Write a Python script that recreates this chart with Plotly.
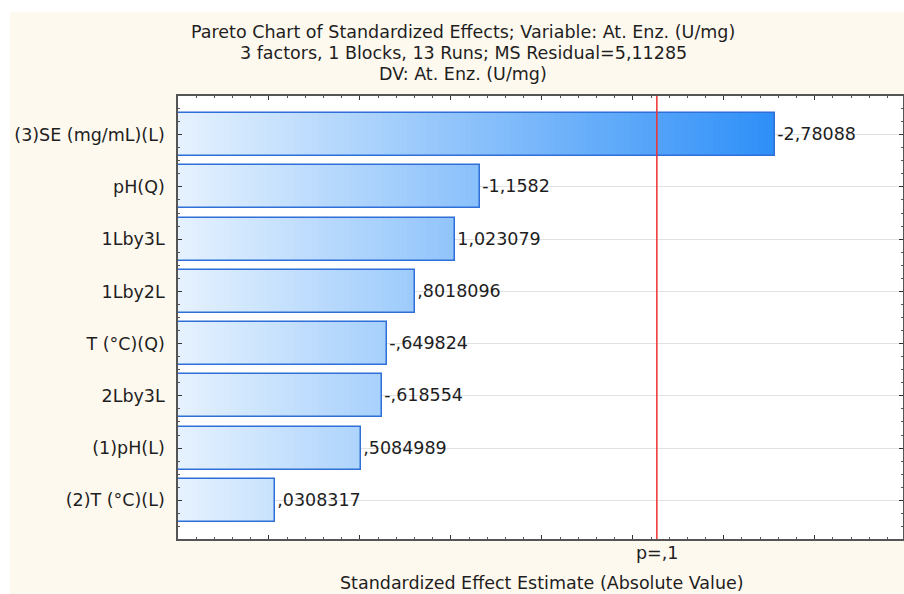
import numpy as np
import plotly.graph_objects as go

# ---- data ----
factors = ["(3)SE (mg/mL)(L)", "pH(Q)", "1Lby3L", "1Lby2L", "T (°C)(Q)",
           "2Lby3L", "(1)pH(L)", "(2)T (°C)(L)"]
effects = [-2.78088, -1.1582, 1.023079, 0.8018096, -0.649824, -0.618554,
           0.5084989, 0.0308317]
crit_value = 2.132  # p = .1
crit_label = "p=,1"
title_lines = ["Pareto Chart of Standardized Effects; Variable: At. Enz. (U/mg)",
               "3 factors, 1 Blocks, 13 Runs; MS Residual=5,11285",
               "DV: At. Enz. (U/mg)"]
x_title = "Standardized Effect Estimate (Absolute Value)"


def stat_fmt(v):
    s = repr(v)
    neg = s.startswith("-")
    s = s.lstrip("-")
    if s.startswith("0."):
        s = s[1:]
    s = s.replace(".", ",")
    return ("-" if neg else "") + s


abs_eff = [abs(v) for v in effects]
labels = [stat_fmt(v) for v in effects]
ypos = list(range(len(factors)))

XMIN, XMAX = -0.5, 3.485
FONT = "DejaVu Sans"
FS = 17.5
TXT = "#1e1e1e"

c0 = np.array([230, 242, 254])
c1 = np.array([46, 143, 248])
grad_end = max(abs_eff)


def grad(x):
    t = min(max((x - XMIN) / (grad_end - XMIN), 0), 1)
    c = c0 + (c1 - c0) * t
    return "rgb(%d,%d,%d)" % tuple(c.round().astype(int))


fig = go.Figure()
BW = 0.82
step = 0.035
for a in np.arange(XMIN, grad_end, step):
    fig.add_trace(go.Bar(
        y=ypos, x=[max(v - a, 0) for v in abs_eff], base=a,
        orientation="h", width=BW,
        marker=dict(color=grad(a + step / 2), line=dict(width=0)),
        hoverinfo="skip", showlegend=False))

fig.add_trace(go.Bar(
    y=ypos, x=[v - XMIN for v in abs_eff], base=XMIN,
    orientation="h", width=BW,
    marker=dict(color="rgba(0,0,0,0)", line=dict(color="#2f6fd8", width=1.5)),
    text=labels, textposition="outside", cliponaxis=False,
    textfont=dict(family=FONT, size=FS, color=TXT),
    showlegend=False))

fig.add_shape(type="line", xref="x", yref="paper", x0=crit_value, x1=crit_value,
              y0=0, y1=1, line=dict(color="#f03030", width=1.5), layer="above")

# white border strips of the original image
W, H = 904, 594
L, R, T, B = 178, 1, 96, 55
pw, ph = W - L - R, H - T - B


def px_x(p):
    return (p - L) / pw


def px_y(p):
    return (H - B - p) / ph


fig.add_shape(type="rect", xref="paper", yref="paper", x0=px_x(0), x1=px_x(W),
              y0=px_y(12), y1=px_y(0), fillcolor="white", line_width=0, layer="below")
fig.add_shape(type="rect", xref="paper", yref="paper", x0=px_x(0), x1=px_x(10),
              y0=px_y(H), y1=px_y(0), fillcolor="white", line_width=0, layer="below")

for i, (line, yp) in enumerate(zip(title_lines, [32, 53, 74])):
    fig.add_annotation(text=line, xref="paper", yref="paper", x=px_x(463), y=px_y(yp),
                       showarrow=False, xanchor="center", yanchor="middle",
                       font=dict(family=FONT, size=FS, color=TXT))

fig.add_annotation(text=crit_label, xref="x", yref="paper", x=crit_value, y=px_y(553),
                   showarrow=False, xanchor="center", yanchor="middle",
                   font=dict(family=FONT, size=FS, color=TXT))
fig.add_annotation(text=x_title, xref="paper", yref="paper", x=px_x(542), y=px_y(583),
                   showarrow=False, xanchor="center", yanchor="middle",
                   font=dict(family=FONT, size=FS, color=TXT))

fig.update_layout(
    width=W, height=H, margin=dict(l=L, r=R, t=T, b=B, autoexpand=False),
    paper_bgcolor="#fef9ef", plot_bgcolor="white",
    barmode="overlay", bargap=0,
    font=dict(family=FONT, size=FS, color=TXT),
    xaxis=dict(range=[XMIN, XMAX], showgrid=False, zeroline=False,
               showline=True, linecolor="#555555", linewidth=1.5, mirror="allticks",
               ticks="inside", ticklen=4, tickcolor="#333", dtick=0.5, tick0=0,
               showticklabels=False,
               minor=dict(ticks="inside", ticklen=2, dtick=0.1, tickcolor="#555", showgrid=False)),
    yaxis=dict(range=[len(factors) - 1 + 0.74, -0.74], showgrid=True, gridcolor="#e2e2e2",
               gridwidth=1, zeroline=False,
               showline=True, linecolor="#555555", linewidth=1.5, mirror="allticks",
               ticks="inside", ticklen=4, tickcolor="#333",
               tickvals=ypos, ticktext=factors, ticklabelstandoff=8,
               tickfont=dict(family=FONT, size=FS, color=TXT),
               minor=dict(ticks="inside", ticklen=2, dtick=0.25, tick0=0, tickcolor="#555",
                          showgrid=False)),
)

fig.write_html("out.html", config={"displayModeBar": False},
               post_script="document.body.style.margin='0';document.body.style.overflow='hidden';")
